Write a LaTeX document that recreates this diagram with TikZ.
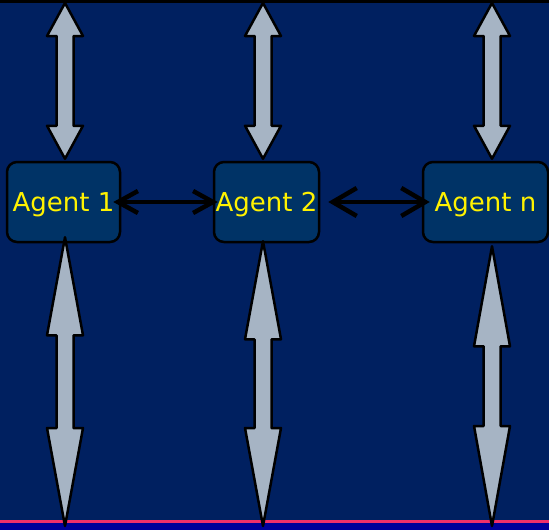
\documentclass[tikz,border=0pt]{standalone}
\usepackage{fontspec}
\setmainfont{DejaVu Sans}
\usetikzlibrary{arrows.meta,calc}

\definecolor{navy}{HTML}{002060}
\definecolor{agentfill}{HTML}{003366}
\definecolor{arrowgray}{HTML}{A6B4C4}
\definecolor{pinkline}{HTML}{F0306A}
\definecolor{bandblue}{HTML}{000099}

% big gray double arrow: from, to, head length
\newcommand{\dblarrow}[3]{%
  \draw[bigarrow] let \p1=(#1), \p2=(#2) in
    (\x1,\y1) -- (\x1-18pt,\y1-#3pt) -- (\x1-8.5pt,\y1-#3pt)
    -- (\x1-8.5pt,\y2+#3pt) -- (\x1-18pt,\y2+#3pt) -- (\x1,\y2)
    -- (\x1+18pt,\y2+#3pt) -- (\x1+8.5pt,\y2+#3pt)
    -- (\x1+8.5pt,\y1-#3pt) -- (\x1+18pt,\y1-#3pt) -- cycle;}

\begin{document}
\begin{tikzpicture}[x=1pt,y=-1pt,
  agent/.style={draw=black,line width=2.5pt,fill=agentfill,rounded corners=10pt,
    text=yellow,font=\fontsize{26}{30}\selectfont,minimum height=80pt,inner sep=0pt,
    text height=23pt,text depth=4pt},
  bigarrow/.style={draw=black,line width=2.5pt,fill=arrowgray,line join=round},
  link/.style={line width=4.5pt,line cap=round}]
  \useasboundingbox (0,0) rectangle (549,530);

  % background and bands
  \fill[navy] (0,0) rectangle (549,530);
  \fill[black] (0,0) rectangle (549,2.5);
  \fill[bandblue] (0,523) rectangle (549,530);
  \fill[pinkline] (0,520) rectangle (549,523);

  % agents
  \node[agent,minimum width=113pt] (a1) at (63.5,202) {Agent 1};
  \node[agent,minimum width=105pt] (a2) at (266.5,202) {Agent 2};
  \node[agent,minimum width=125pt] (an) at (485.5,202) {Agent n};

  % ends of the big arrows
  \foreach \n/\x in {1/65,2/263,3/492} {
    \coordinate (t\n) at (\x,3);
    \coordinate (b\n) at (\x,526);
  }

  % to the top
  \dblarrow{t1}{$(t1 |- a1.north)+(0,-2)$}{33}
  \dblarrow{t2}{$(t2 |- a2.north)+(0,-2)$}{33}
  \dblarrow{t3}{$(t3 |- an.north)+(0,-2)$}{33}

  % to the bottom
  \dblarrow{$(b1 |- a1.south)+(0,-6)$}{b1}{98}
  \dblarrow{$(b2 |- a2.south)+(0,-2)$}{b2}{98}
  \dblarrow{$(b3 |- an.south)+(0,3)$}{b3}{100}

  % between agents
  \draw[link,{Straight Barb[length=20pt,width=22pt]}-{Straight Barb[length=20pt,width=22pt]},
    shorten <=-8pt,shorten >=-5pt] (a1.east) -- (a2.west);
  \draw[link,{Straight Barb[length=24pt,width=28pt]}-{Straight Barb[length=24pt,width=28pt]},
    shorten <=8pt,shorten >=-8pt] (a2.east) -- (an.west);
\end{tikzpicture}
\end{document}
